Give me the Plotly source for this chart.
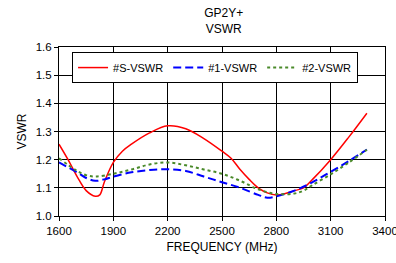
import plotly.graph_objects as go

freq_s = [1600, 1650, 1700, 1750, 1800, 1825, 1850, 1900, 1950, 2000, 2100, 2200, 2300, 2400, 2500, 2550, 2600, 2650, 2700, 2750, 2800, 2850, 2900, 2950, 3000, 3100, 3200, 3300]
vswr_s = [1.255, 1.20, 1.14, 1.09, 1.07, 1.075, 1.12, 1.19, 1.23, 1.255, 1.295, 1.32, 1.31, 1.275, 1.23, 1.205, 1.165, 1.13, 1.10, 1.082, 1.075, 1.08, 1.09, 1.10, 1.13, 1.20, 1.28, 1.365]

freq_1 = [1600, 1700, 1750, 1800, 1850, 1900, 2000, 2100, 2200, 2300, 2400, 2500, 2600, 2700, 2750, 2800, 2900, 3000, 3100, 3200, 3300]
vswr_1 = [1.19, 1.155, 1.135, 1.125, 1.13, 1.14, 1.155, 1.163, 1.166, 1.16, 1.14, 1.12, 1.10, 1.075, 1.065, 1.07, 1.09, 1.12, 1.157, 1.195, 1.236]

freq_2 = [1600, 1700, 1750, 1800, 1900, 2000, 2100, 2200, 2300, 2400, 2500, 2600, 2700, 2800, 2900, 2950, 3000, 3100, 3200, 3300]
vswr_2 = [1.205, 1.16, 1.145, 1.14, 1.15, 1.165, 1.183, 1.19, 1.18, 1.165, 1.15, 1.125, 1.095, 1.078, 1.08, 1.09, 1.11, 1.148, 1.19, 1.235]

x_ticks = [1600, 1900, 2200, 2500, 2800, 3100, 3400]
y_ticks = [1.0, 1.1, 1.2, 1.3, 1.4, 1.5, 1.6]

fig = go.Figure()
fig.add_trace(go.Scatter(x=freq_s, y=vswr_s, mode="lines", name="#S-VSWR",
                         line=dict(color="#ff0000", width=1.5, shape="spline")))
fig.add_trace(go.Scatter(x=freq_1, y=vswr_1, mode="lines", name="#1-VSWR",
                         line=dict(color="#0000ff", width=2, dash="8px,4px", shape="spline")))
fig.add_trace(go.Scatter(x=freq_2, y=vswr_2, mode="lines", name="#2-VSWR",
                         line=dict(color="#4a8a2a", width=2, dash="3px,3px", shape="spline")))

font = "Liberation Sans, Arial, sans-serif"
fig.update_layout(
    width=396, height=263,
    margin=dict(l=59, r=11, t=47, b=47, autoexpand=False),
    paper_bgcolor="white", plot_bgcolor="white",
    font=dict(family=font, size=11, color="black"),
    title=dict(text="GP2Y+<br>VSWR", x=0.565, xanchor="center", y=0.935, yanchor="top",
               font=dict(family=font, size=12, color="black")),
    showlegend=True,
    legend=dict(orientation="h", x=0.04, y=0.97, xanchor="left", yanchor="top",
                bgcolor="white", bordercolor="black", borderwidth=1,
                font=dict(family=font, size=11), itemwidth=30, tracegroupgap=0),
    xaxis=dict(range=[1600, 3400], tickvals=x_ticks, ticktext=[str(v) for v in x_ticks],
               showgrid=True, gridcolor="black", gridwidth=1,
               showline=True, linecolor="black", linewidth=1, mirror=True,
               ticks="outside", ticklen=4, tickcolor="black", ticklabeloverflow="allow",
               tickfont=dict(size=11.5),
               title=dict(text="FREQUENCY (MHz)", standoff=6, font=dict(size=12)), zeroline=False),
    yaxis=dict(range=[1.0, 1.6], tickvals=y_ticks, ticktext=[f"{v:.1f}" for v in y_ticks],
               showgrid=True, gridcolor="black", gridwidth=1,
               showline=True, linecolor="black", linewidth=1, mirror=True,
               ticks="outside", ticklen=4, tickcolor="black", ticklabeloverflow="allow",
               tickfont=dict(size=11.5),
               title=dict(text="VSWR", standoff=6, font=dict(size=12)), zeroline=False),
)
fig.write_html("out.html", config={"displayModeBar": False},
               post_script="document.body.style.margin='0';document.body.style.overflow='hidden';")
